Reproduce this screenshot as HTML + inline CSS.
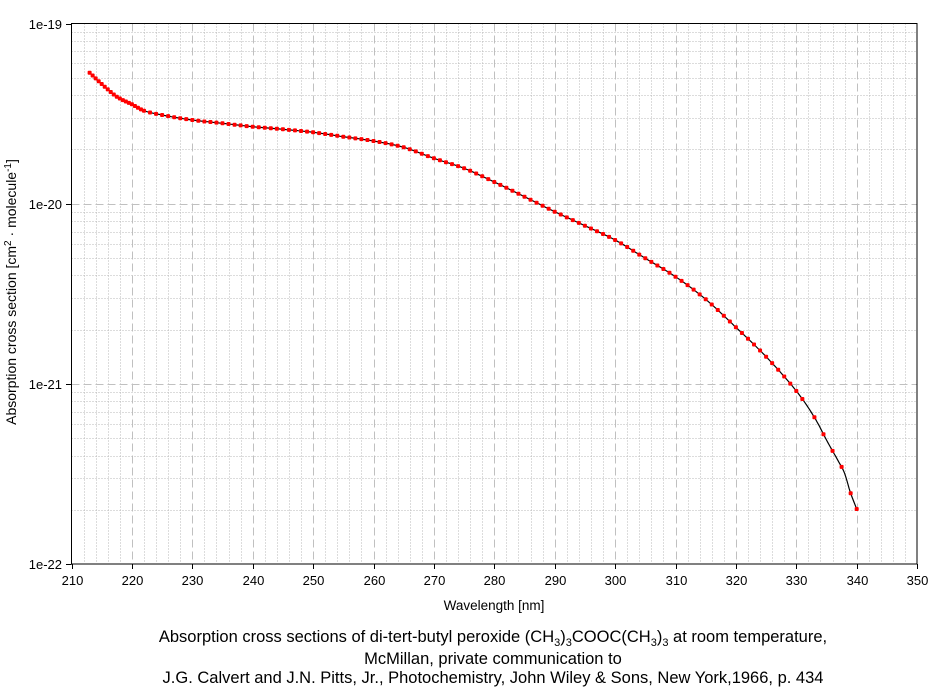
<!DOCTYPE html>
<html><head><meta charset="utf-8"><style>
body{margin:0;background:#fff;width:940px;height:689px;overflow:hidden}
svg{display:block}
text{font-family:"Liberation Sans",Arial,sans-serif;fill:#000}
</style></head><body>
<svg id="s" width="940" height="689" xmlns="http://www.w3.org/2000/svg">
<g id="grid"></g>
<rect x="71.5" y="23.5" width="845.5" height="540.5" fill="none" stroke="#000" stroke-width="1"/>
<g id="ticks"></g>
<path id="curve" fill="none" stroke="#000" stroke-width="1.2"/>
<g id="marks" fill="#f00"></g>
<text x="16" y="292" font-size="14" text-anchor="middle" transform="rotate(-90 16 292)">Absorption cross section [cm<tspan font-size="10" dy="-5">2</tspan><tspan dy="5"> · molecule</tspan><tspan font-size="10" dy="-5">-1</tspan><tspan dy="5">]</tspan></text>
<text x="494" y="610" font-size="13.5" text-anchor="middle">Wavelength [nm]</text>
<text x="493" y="642" font-size="16.5" text-anchor="middle">Absorption cross sections of di-tert-butyl peroxide (CH<tspan font-size="11" dy="4">3</tspan><tspan dy="-4">)</tspan><tspan font-size="11" dy="4">3</tspan><tspan dy="-4">COOC(CH</tspan><tspan font-size="11" dy="4">3</tspan><tspan dy="-4">)</tspan><tspan font-size="11" dy="4">3</tspan><tspan dy="-4"> at room temperature,</tspan></text>
<text x="493" y="664" font-size="16.5" text-anchor="middle">McMillan, private communication to</text>
<text x="493" y="683" font-size="16.5" text-anchor="middle">J.G. Calvert and J.N. Pitts, Jr., Photochemistry, John Wiley &amp; Sons, New York,1966, p. 434</text>
</svg>
<script>
(function(){
var NS="http://www.w3.org/2000/svg";
function X(w){return 71.5+(w-210)*6.04;}
var T0=23.5,B0=564,dec=180.17;
function el(p,t,a,txt){var e=document.createElementNS(NS,t);for(var k in a)e.setAttribute(k,a[k]);if(txt!==undefined)e.textContent=txt;p.appendChild(e);return e;}
var g=document.getElementById('grid'),tk=document.getElementById('ticks'),s=document.getElementById('s');
for(var w=212;w<350;w+=2){var x=Math.round(X(w))+0.5;
 if(w%10==0) el(g,'line',{x1:x,x2:x,y1:T0,y2:B0,stroke:'#c0c0c0','stroke-dasharray':'8,4'});
 else el(g,'line',{x1:x,x2:x,y1:T0,y2:B0,stroke:'#b8b8b8','stroke-dasharray':'1,2'});}
for(var d=0;d<3;d++){for(var m=1;m<=9;m++){var y=Math.round(T0+dec*d+dec*(1-Math.log10(m)))+0.5;
 if(m==1){ if(d<2) el(g,'line',{x1:71.5,x2:917,y1:y,y2:y,stroke:'#c0c0c0','stroke-dasharray':'8,4'});}
 else el(g,'line',{x1:71.5,x2:917,y1:y,y2:y,stroke:'#b8b8b8','stroke-dasharray':'1,2'});}}
for(var w2=210;w2<=350;w2+=10){var xx=Math.round(X(w2))+0.5;el(tk,'line',{x1:xx,x2:xx,y1:564,y2:569,stroke:'#000'});
 el(s,'text',{x:xx,y:585,'font-size':13,'text-anchor':'middle'},String(w2));}
['1e-19','1e-20','1e-21','1e-22'].forEach(function(t,i){var y=Math.round(T0+dec*i)+0.5;el(tk,'line',{x1:66,x2:71.5,y1:y,y2:y,stroke:'#000'});
 el(s,'text',{x:62,y:y+4.5,'font-size':13,'text-anchor':'end'},t);});
var P=[[213,72.7],[215,84],[217.5,96.7],[220,104.3],[222,110.7],[225,115],[230,120],[235,123.3],[240,126.7],[245,129.3],[250,132.3],[255,136.7],[260,141],[265,147.3],[270,158.3],[275,168.3],[280,182],[285,196.7],[290,211.7],[295,225.7],[300,240],[305,258.3],[310,276.7],[315,299.3],[320,327.3],[325,356.7],[330,391],[333,417.3],[335,440],[337,461.7],[338,473.3],[339,493.3],[340,509]];
function Y(w){var i=0;while(i<P.length-2&&P[i+1][0]<w)i++;
 var p0=P[Math.max(0,i-1)],p1=P[i],p2=P[i+1],p3=P[Math.min(P.length-1,i+2)];
 var h=p2[0]-p1[0],t=(w-p1[0])/h;
 var m1=(p2[1]-p0[1])/(p2[0]-p0[0])*h,m2=(p3[1]-p1[1])/(p3[0]-p1[0])*h;
 var t2=t*t,t3=t2*t;
 return (2*t3-3*t2+1)*p1[1]+(t3-2*t2+t)*m1+(-2*t3+3*t2)*p2[1]+(t3-t2)*m2;}
var dd='';for(var w3=213;w3<=340.001;w3+=0.25)dd+=(dd?'L':'M')+X(w3).toFixed(1)+','+Y(w3).toFixed(1);
document.getElementById('curve').setAttribute('d',dd);
var mk=document.getElementById('marks');
var ws=[];for(var a=213;a<222;a+=0.5)ws.push(a);for(var b=222;b<=330;b+=1)ws.push(b);
[331,333,334.5,336,337.5,339,340].forEach(function(v){ws.push(v);});
ws.forEach(function(v){el(mk,'rect',{x:X(v)-2,y:Y(v)-2,width:4,height:4,rx:1});});
})();
</script>
</body></html>
